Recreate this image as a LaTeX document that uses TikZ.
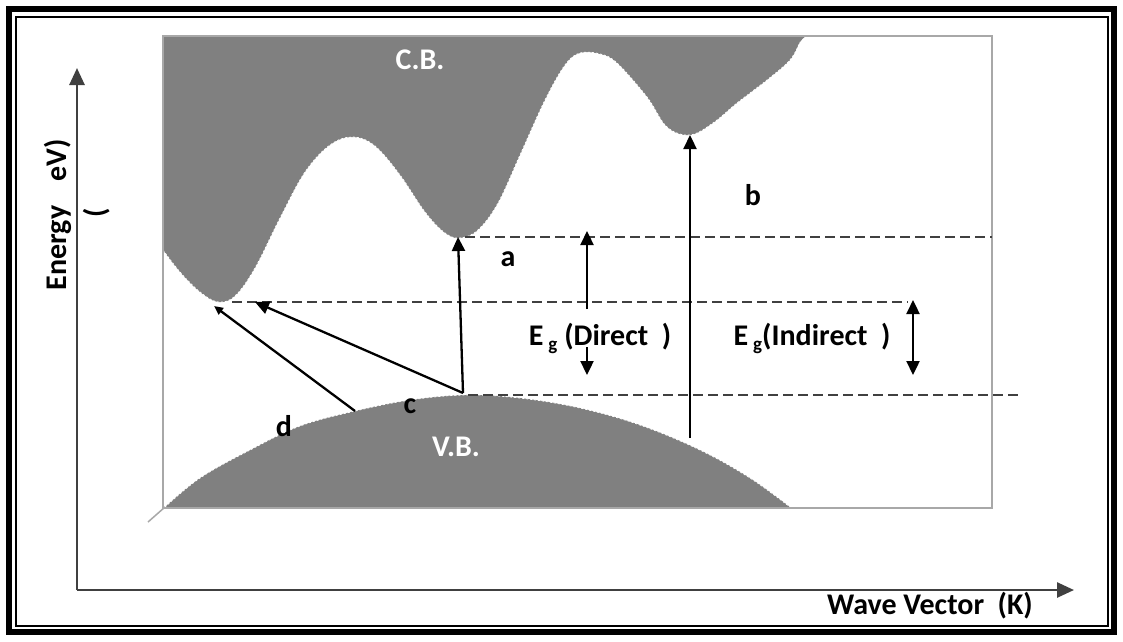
\documentclass[tikz,border=0pt]{standalone}
\usepackage{fontspec}
\setmainfont{Carlito}
\usetikzlibrary{arrows.meta}
\definecolor{band}{HTML}{808080}
\definecolor{boxline}{HTML}{A8A8A8}
\definecolor{axisc}{HTML}{404040}
\tikzset{
  lbl/.style={font=\bfseries\fontsize{30}{32}\selectfont, inner sep=0pt},
  wlbl/.style={lbl, text=white},
  arr/.style={line width=2.3pt, -{Triangle[length=14pt,width=13pt]}},
  darr/.style={line width=2.3pt, {Triangle[length=14pt,width=13pt]}-{Triangle[length=14pt,width=13pt]}},
  gap/.style={dash pattern=on 10pt off 5pt, line width=2.4pt, draw=axisc},
  edge/.style={white, line width=0.8pt, dash pattern=on 2pt off 2pt}
}
\begin{document}
\begin{tikzpicture}[x=1pt,y=-1pt]
\useasboundingbox (0,0) rectangle (1123,641);
\fill[white] (0,0) rectangle (1123,641);
% frame
\draw[line width=6pt] (9,9) rectangle (1114,632);
\draw[line width=1.8pt] (16,17) rectangle (1108,626);
% bands
\fill[band] (163,36) -- plot[smooth, tension=0.6] coordinates {(163,250) (180,272) (200,292) (218,302) (235,296) (255,268) (280,218) (305,172) (330,145) (353,137) (375,146) (400,175) (425,212) (445,233) (460,238) (478,230) (498,203) (520,155) (545,100) (565,65) (580,53) (600,54) (617,63) (647,97) (667,127) (690,135) (713,123) (737,103) (767,80) (790,60) (800,42) (806,36)} -- cycle;
\draw[edge] plot[smooth, tension=0.6] coordinates {(163,250) (180,272) (200,292) (218,302) (235,296) (255,268) (280,218) (305,172) (330,145) (353,137) (375,146) (400,175) (425,212) (445,233) (460,238) (478,230) (498,203) (520,155) (545,100) (565,65) (580,53) (600,54) (617,63) (647,97) (667,127) (690,135) (713,123) (737,103) (767,80) (790,60) (800,42)};
\fill[band] plot[smooth, tension=0.6] coordinates {(165,507) (200,478) (250,450) (300,426) (355,411) (410,400) (465,395) (520,398) (580,408) (640,425) (700,450) (750,478) (790,507)} -- cycle;
\draw[edge] plot[smooth, tension=0.6] coordinates {(165,507) (200,478) (250,450) (300,426) (355,411) (410,400) (465,395) (520,398) (580,408) (640,425) (700,450) (750,478) (790,507)};
\draw[boxline, line width=1.8pt] (163,36) rectangle (992,508);
\draw[boxline, line width=1.5pt] (148,522) -- (165,507);
% axes
\coordinate (o) at (77,590);
\coordinate (ytip) at (77,68);
\coordinate (xtip) at (1074,590);
\draw[axisc, line width=2.6pt, -{Triangle[length=17pt,width=15pt]}] (o) -- (ytip);
\draw[axisc, line width=2.6pt, -{Triangle[length=17pt,width=15pt]}] (o) -- (xtip);
% dashed levels
\coordinate (l1a) at (465,237); \coordinate (l1b) at (992,237);
\coordinate (l2a) at (232,302); \coordinate (l2b) at (908,302);
\coordinate (l3a) at (468,395); \coordinate (l3b) at (1020,395);
\draw[gap] (l1a) -- (l1b);
\draw[gap] (l2a) -- (l2b);
\draw[gap] (l3a) -- (l3b);
% transitions
\coordinate (vtop) at (463,393);
\coordinate (cmin2) at (458,237);
\coordinate (cmin1) at (255,302);
\coordinate (cmin0) at (214,306);
\coordinate (vd) at (355,411);
\coordinate (vb) at (690,438);
\coordinate (cmin3) at (690,135);
\draw[arr] (vtop) -- (cmin2);
\draw[arr] (vtop) -- (cmin1);
\draw[arr, -{Triangle[length=9pt,width=8pt]}] (vd) -- (cmin0);
\draw[arr] (vb) -- (cmin3);
% gap arrows
\coordinate (du0) at (587,309); \coordinate (du1) at (587,231);
\coordinate (dd0) at (587,347); \coordinate (dd1) at (587,375);
\coordinate (i0) at (913,300); \coordinate (i1) at (913,375);
\draw[arr] (du0) -- (du1);
\draw[arr] (dd0) -- (dd1);
\draw[darr] (i0) -- (i1);
% labels
\node[wlbl] (cb) at (420,60) {C.B.};
\node[wlbl] (vbl) at (456,447) {V.B.};
\node[lbl] (la) at (508,259) {a};
\node[lbl] (lb) at (753,195) {b};
\node[lbl] (lc) at (410,406) {c};
\node[lbl] (ld) at (284,426) {d};
\node[lbl] (ed) at (600,338) {E\,{\fontsize{19}{19}\selectfont\raisebox{-5pt}{g}}\ (Direct\ \ )};
\node[lbl] (ei) at (812,338) {E\,{\fontsize{19}{19}\selectfont\raisebox{-5pt}{g}}(Indirect\ \ )};
\node[lbl] (wv) at (930,606) {Wave Vector\ \ (K)};
\node[lbl, rotate=90] (en) at (59,248) {Energy};
\node[lbl, rotate=90] (ev) at (58,160) {eV)};
\node[lbl, rotate=90] (pa) at (97,213) {(};
\end{tikzpicture}
\end{document}
